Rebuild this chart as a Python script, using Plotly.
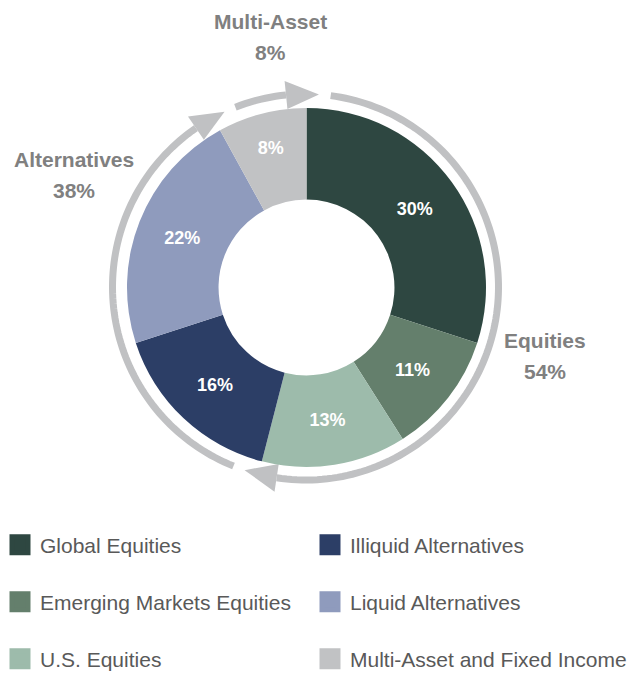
import math
import plotly.graph_objects as go

# ---------------- data ----------------
labels = ["Global Equities", "Emerging Markets Equities", "U.S. Equities",
          "Illiquid Alternatives", "Liquid Alternatives", "Multi-Asset and Fixed Income"]
values = [30, 11, 13, 16, 22, 8]
colors = ["#2e4741", "#647f6c", "#9dbbab", "#2c3e66", "#8f9bbd", "#c1c2c4"]

group_names = ["Equities", "Alternatives", "Multi-Asset"]
group_values = [54, 38, 8]

# ---------------- style ----------------
W, H = 640, 684
FONT = "Liberation Sans, Arial, sans-serif"
ARC_COLOR = "#c0c1c3"
LABEL_GRAY = "#808080"

pie_cx, pie_cy, pie_r = 306.5, 287.5, 179.5
arc_cx, arc_cy, arc_r = 305.5, 287.0, 193.0

fig = go.Figure()

fig.add_trace(go.Pie(
    labels=labels, values=values, sort=False, direction="clockwise", rotation=0,
    hole=0.49,
    marker=dict(colors=colors, line=dict(width=0)),
    text=[f"{v}%" for v in values], textinfo="text", textposition="inside",
    insidetextorientation="horizontal",
    textfont=dict(family=FONT, size=18, color="white", weight="bold"),
    domain=dict(x=[(pie_cx - pie_r) / W, (pie_cx + pie_r) / W],
                y=[(H - pie_cy - pie_r) / H, (H - pie_cy + pie_r) / H]),
    showlegend=False, hoverinfo="label+percent",
))

# legend entries: one small legend per entry, laid out in 2 columns x 3 rows
legend_cols_x = [0, 310]
legend_rows_y = [545, 602, 659]
legend_layouts = {}
for i, (lab, col) in enumerate(zip(labels, colors)):
    key = "legend" if i == 0 else f"legend{i + 1}"
    row, column = i % 3, i // 3
    fig.add_trace(go.Scatter(
        x=[None], y=[None], mode="markers", name=lab, legend=key,
        marker=dict(symbol="square", size=16, color=col, line=dict(color=col, width=5)),
        showlegend=True, hoverinfo="skip"))
    legend_layouts[key] = dict(
        orientation="v", x=legend_cols_x[column] / W, xanchor="left",
        y=1 - legend_rows_y[row] / H, yanchor="middle",
        font=dict(family=FONT, size=21, color="#595959"),
        bgcolor="rgba(0,0,0,0)", itemclick=False, itemdoubleclick=False)

# ---------------- group arcs with arrowheads ----------------
def pt(theta_deg, r):
    t = math.radians(theta_deg)
    return arc_cx + r * math.sin(t), arc_cy - r * math.cos(t)

shapes = []
annotations = []
cum = 0.0
head_len, head_half = 33.0, 14.0
for name, gv in zip(group_names, group_values):
    a0 = cum * 3.6
    a1 = (cum + gv) * 3.6
    cum += gv
    start = a0 + 7.5
    tip = a1 + 4.0
    base = tip - math.degrees(head_len / arc_r)
    n = max(8, int((base - start) / 1.5))
    pts = [pt(start + (base - start) * k / n, arc_r) for k in range(n + 1)]
    path = "M " + " L ".join(f"{x:.2f},{y:.2f}" for x, y in pts)
    shapes.append(dict(type="path", path=path, xref="x", yref="y",
                       line=dict(color=ARC_COLOR, width=7), layer="below"))
    p1 = pt(base, arc_r - head_half)
    p2 = pt(base, arc_r + head_half)
    p3 = pt(tip, arc_r)
    tri = f"M {p1[0]:.2f},{p1[1]:.2f} L {p2[0]:.2f},{p2[1]:.2f} L {p3[0]:.2f},{p3[1]:.2f} Z"
    shapes.append(dict(type="path", path=tri, xref="x", yref="y",
                       fillcolor=ARC_COLOR, line=dict(width=0), layer="below"))

# group labels (positions)
group_label_pos = {"Equities": (545, 340), "Alternatives": (74, 159), "Multi-Asset": (270, 21)}
for name, gv in zip(group_names, group_values):
    x, y = group_label_pos[name]
    for j, txt in enumerate([name, f"{gv}%"]):
        annotations.append(dict(x=x, y=y + 31 * j, xref="x", yref="y", text=txt,
                                showarrow=False, xanchor="center", yanchor="middle",
                                font=dict(family=FONT, size=21, color=LABEL_GRAY, weight="bold")))

fig.update_layout(
    width=W, height=H, margin=dict(l=0, r=0, t=0, b=0),
    paper_bgcolor="white", plot_bgcolor="white",
    xaxis=dict(range=[0, W], visible=False, fixedrange=True, domain=[0, 1]),
    yaxis=dict(range=[H, 0], visible=False, fixedrange=True, domain=[0, 1]),
    shapes=shapes, annotations=annotations,
    **legend_layouts,
)

fig.write_html("out.html")
